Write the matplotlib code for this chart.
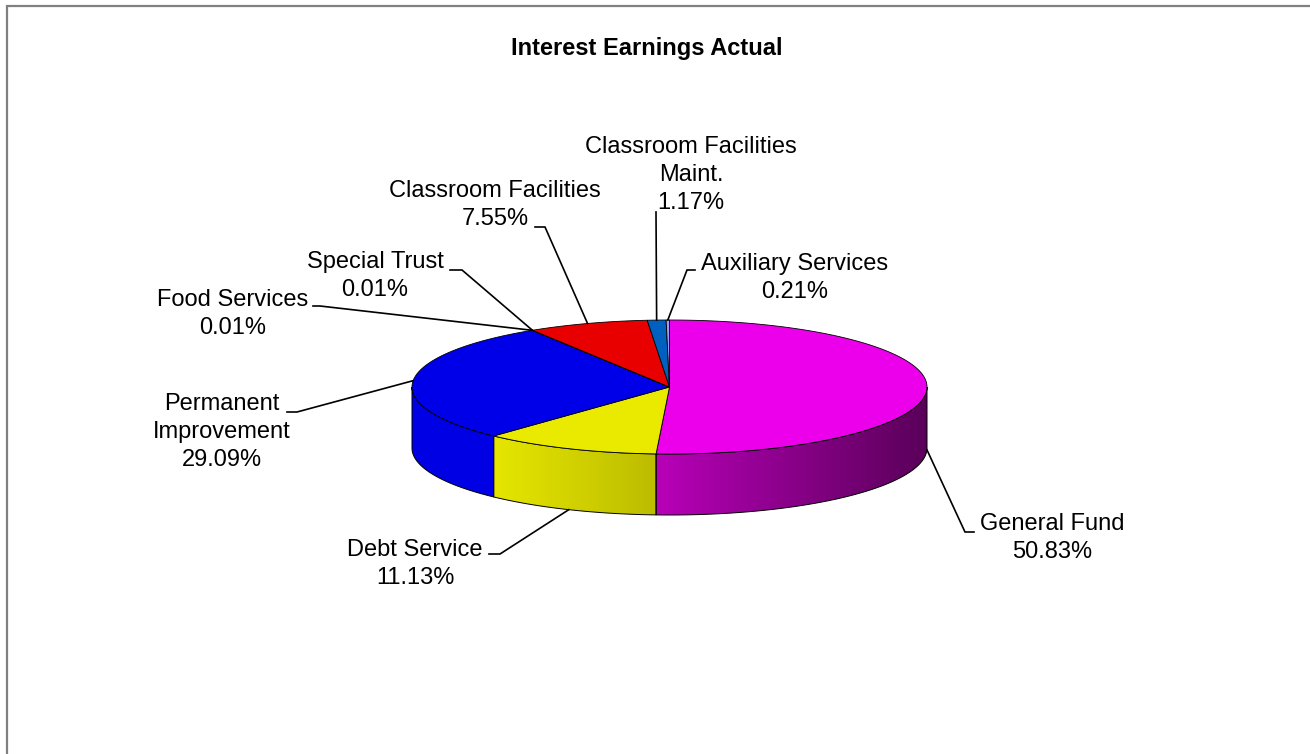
import numpy as np
import matplotlib
matplotlib.use("Agg")
import matplotlib.pyplot as plt
from matplotlib.patches import Polygon
from matplotlib.colors import to_rgb

plt.rcParams['font.family'] = ['Liberation Sans', 'DejaVu Sans']

# ---- data ----
title = "Interest Earnings Actual"
categories = ["General Fund", "Debt Service", "Permanent\nImprovement", "Food Services",
              "Special Trust", "Classroom Facilities", "Classroom Facilities\nMaint.",
              "Auxiliary Services"]
shares = [50.83, 11.13, 29.09, 0.01, 0.01, 7.55, 1.17, 0.21]

# ---- styling ----
top_colors = ["#EC00EC", "#EAEA00", "#0000E8", "#FFFFCC", "#CCFFFF", "#E80000", "#0060C0", "#9A9AFF"]
side_shades = [("#B800B8", "#5A005A"), ("#E6E600", "#BCBC00"), ("#0000E4", "#0000E4"),
               ("#C0C0A0", "#C0C0A0"), ("#A0C0C0", "#A0C0C0"), ("#B00000", "#B00000"),
               ("#004C9A", "#004C9A"), ("#7070CC", "#7070CC")]

# label placement: text centre, elbow of leader, end of leader next to the text
label_pos = [(1052, 538), (415, 564), (222, 432), (233, 314), (375, 276), (495, 205), (691, 175), (795, 278)]
leader_knee = [(965, 532), (500, 554), (297, 412), (320, 306), (462, 270), (545, 227), (656, 212), (687, 270)]
leader_end = [(974, 532), (489, 554), (287, 412), (313, 306), (450, 270), (535, 227), (656, 212), (695, 270)]

W, H = 1310, 754
fig = plt.figure(figsize=(W / 100, H / 100), dpi=100)
ax = fig.add_axes([0, 0, 1, 1])
ax.set_xlim(0, W)
ax.set_ylim(H, 0)
ax.axis('off')

# pie geometry (ellipse of the top face and thickness of the disc)
cx, cy, rx, ry, depth = 669.5, 387.0, 257.5, 67.0, 61.0


def rim(theta_deg, drop=0.0):
    t = np.radians(theta_deg)
    return cx + rx * np.sin(t), cy - ry * np.cos(t) + drop


total = float(sum(shares))
bounds = np.concatenate([[0.0], np.cumsum(shares) / total * 360.0])

# side walls of the front half, with a horizontal light-to-dark gradient
for i in range(len(shares)):
    a, b = max(bounds[i], 90.0), min(bounds[i + 1], 270.0)
    if b <= a:
        continue
    th = np.linspace(a, b, 120)
    xt, yt = rim(th)
    xb, yb = rim(th[::-1], depth)
    pts = np.column_stack([np.concatenate([xt, xb]), np.concatenate([yt, yb])])
    poly = Polygon(pts, closed=True, facecolor='none', edgecolor='black', lw=0.7, zorder=3)
    ax.add_patch(poly)
    c0, c1 = np.array(to_rgb(side_shades[i][0])), np.array(to_rgb(side_shades[i][1]))
    x0, x1 = pts[:, 0].min(), pts[:, 0].max()
    y0, y1 = pts[:, 1].min(), pts[:, 1].max()
    f = np.linspace(0, 1, 256)[None, :, None]
    grad = c0[None, None, :] * (1 - f) + c1[None, None, :] * f
    im = ax.imshow(grad, extent=(x0, x1, y1, y0), aspect='auto', zorder=2, interpolation='bilinear')
    clip = Polygon(pts, closed=True, transform=ax.transData)
    im.set_clip_path(clip)

# top face wedges
for i in range(len(shares)):
    th = np.linspace(bounds[i], bounds[i + 1], max(4, int((bounds[i + 1] - bounds[i]) * 2)))
    xt, yt = rim(th)
    pts = np.column_stack([np.concatenate([[cx], xt]), np.concatenate([[cy], yt])])
    ax.add_patch(Polygon(pts, closed=True, facecolor=top_colors[i], edgecolor='black',
                         lw=0.6, joinstyle='round', zorder=4))

ax.set_xlim(0, W)
ax.set_ylim(H, 0)

# leader lines and labels
for i, name in enumerate(categories):
    mid = (bounds[i] + bounds[i + 1]) / 2.0
    drop = depth if np.cos(np.radians(mid)) < 0 else 0.0
    ax_, ay_ = rim(mid, drop)
    kx, ky = leader_knee[i]
    ex, ey = leader_end[i]
    ax.plot([ax_, kx, ex], [ay_, ky, ey], color='black', lw=1.2, zorder=5,
            solid_joinstyle='miter')
    tx, ty = label_pos[i]
    ax.text(tx, ty, f"{name}\n{shares[i]:.2f}%", ha='center', va='center', fontsize=17,
            linespacing=1.35, color='black', zorder=6)

ax.text(647, 48, title, ha='center', va='center', fontsize=17, fontweight='bold', color='black')

# chart frame
ax.plot([7, 7, W], [H, 6, 6], color='#808080', lw=1.6, solid_joinstyle='miter', zorder=7)

fig.savefig("out.png", dpi=100)
